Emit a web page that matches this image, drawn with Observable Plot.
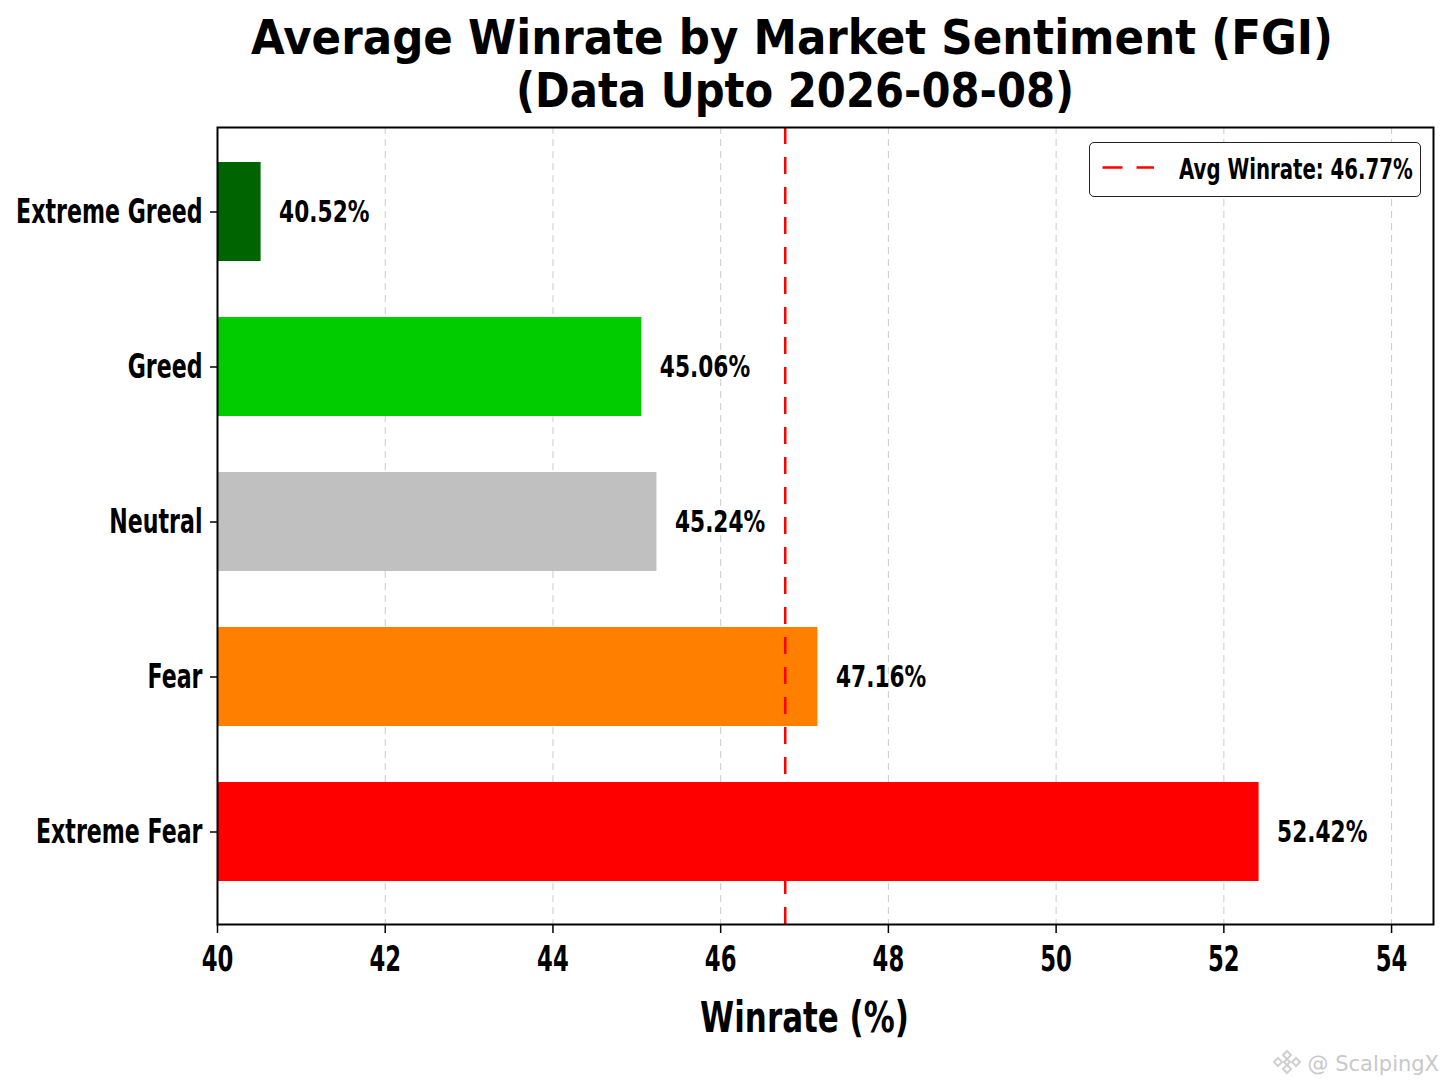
<!DOCTYPE html>
<html>
<head>
<meta charset="utf-8">
<script src="https://cdn.jsdelivr.net/npm/d3@7"></script>
<script src="https://cdn.jsdelivr.net/npm/@observablehq/plot@0.6"></script>
<style>
  html, body { margin: 0; padding: 0; background: #ffffff; }
  body { width: 1448px; height: 1086px; position: relative; overflow: hidden; font-family: "DejaVu Sans", sans-serif; }
  .tl { position: absolute; white-space: nowrap; font-weight: bold; font-size: 48px; line-height: 48px; color: #000; transform-origin: 0 0; }
  #chart { position: absolute; left: 0; top: 120px; }
  #legend { position: absolute; left: 1089px; top: 142px; width: 332px; height: 55px; box-sizing: border-box;
            border: 1.5px solid #222; border-radius: 5px; background: #fff; }
  #legend svg { position: absolute; left: 0; top: 0; }
  #legendText { position: absolute; left: 88.5px; top: 12.5px; white-space: nowrap; font-weight: bold; font-size: 28.4px;
                line-height: 28px; color: #000; transform-origin: 0 0; transform: scaleX(0.695); }
  #wm { position: absolute; right: 9px; top: 1054px; font-size: 21px; line-height: 21px; color: #c8c8c8; white-space: nowrap; }
  #wmLogo { position: absolute; left: 1272px; top: 1048px; }
</style>
</head>
<body>
<div class="tl" id="t1"></div>
<div class="tl" id="t2"></div>
<div id="chart"></div>
<div id="legend">
  <svg width="90" height="52"><line x1="12.5" x2="64" y1="24.5" y2="24.5" stroke="#ff0000" stroke-width="2.5" stroke-dasharray="20,14"></line></svg>
  <span id="legendText"></span>
</div>
<svg id="wmLogo" width="30" height="28" viewBox="0 0 30 28">
  <g fill="none" stroke="#d0d0d0" stroke-width="2">
    <path d="M15 3 L19 7 L15 11 L11 7 Z"></path>
    <path d="M15 17 L19 21 L15 25 L11 21 Z"></path>
    <path d="M6 10 L10 14 L6 18 L2 14 Z"></path>
    <path d="M24 10 L28 14 L24 18 L20 14 Z"></path>
    <path d="M15 11 L18 14 L15 17 L12 14 Z"></path>
  </g>
</svg>
<div id="wm">@ ScalpingX</div>
<script>
// ---- data ----
const titleLines = ["Average Winrate by Market Sentiment (FGI)", "(Data Upto 2026-08-08)"];
const sentiments = ["Extreme Greed", "Greed", "Neutral", "Fear", "Extreme Fear"];
const winrates = [40.52, 45.06, 45.24, 47.16, 52.42];
const avgWinrate = 46.77;
const xTicks = [40, 42, 44, 46, 48, 50, 52, 54];
const xDomain = [40, 54.5];
const xLabel = "Winrate (%)";
// ---- styling ----
const sentimentColors = ["#006400", "#00cc00", "#c0c0c0", "#ff8000", "#ff0000"];

const rows = sentiments.map((s, i) => ({sentiment: s, winrate: winrates[i], color: sentimentColors[i]}));

// title: two centred lines, condensed to the reference widths
const titleLayout = [{top: 12.7, center: 792, width: 1082}, {top: 66.1, center: 795, width: 558}];
titleLines.forEach((txt, i) => {
  const el = document.getElementById(i === 0 ? "t1" : "t2");
  el.textContent = txt;
  const {top, center, width} = titleLayout[i];
  el.style.top = top + "px";
  el.style.left = center + "px";
  const w = el.offsetWidth;
  const s = width / w;
  el.style.transform = `translateX(${-w * s / 2}px) scaleX(${s})`;
});

document.getElementById("legendText").textContent = `Avg Winrate: ${avgWinrate.toFixed(2)}%`;

const chart = Plot.plot({
  width: 1448,
  height: 966,
  marginTop: 7,
  marginBottom: 162,
  marginLeft: 217,
  marginRight: 15,
  style: {background: "#ffffff", fontFamily: "'DejaVu Sans', sans-serif", fontWeight: "bold", color: "#000", overflow: "visible"},
  x: {domain: xDomain},
  y: {domain: sentiments, paddingInner: 0.362, paddingOuter: 0.248, align: 0.447},
  color: {type: "identity"},
  marks: [
    Plot.gridX(xTicks, {stroke: "#a0a0a0", strokeOpacity: 0.55, strokeDasharray: "7,5", strokeWidth: 1}),
    Plot.barX(rows, {y: "sentiment", x1: xDomain[0], x2: "winrate", fill: "color"}),
    Plot.ruleX([avgWinrate], {stroke: "#ff0000", strokeWidth: 2.5, strokeDasharray: "17,13"}),
    Plot.text(rows, {x: "winrate", y: "sentiment", text: d => `${d.winrate.toFixed(2)}%`, textAnchor: "start", lineAnchor: "middle", dx: 18, fontSize: 31, fill: "#000"}),
    Plot.frame({stroke: "#000", strokeWidth: 2}),
    Plot.axisY({tickSize: 7, tickPadding: 8, fontSize: 33, label: null, strokeWidth: 1.5}),
    Plot.axisX(xTicks, {tickSize: 9, tickPadding: 13, fontSize: 35, label: null, strokeWidth: 1.5, tickFormat: d => String(d)}),
    Plot.text([xLabel], {frameAnchor: "bottom", dy: 93.5, dx: -21, fontSize: 43, lineAnchor: "middle", textAnchor: "middle", fill: "#000"})
  ]
});
document.getElementById("chart").appendChild(chart);

// horizontally condense the svg text to match the narrow lettering of the reference
const squeezeBySize = {31: 0.70, 33: 0.67, 35: 0.65, 43: 0.72};
chart.querySelectorAll("text").forEach(t => {
  const fs = Math.round(parseFloat(getComputedStyle(t).fontSize));
  const s = squeezeBySize[fs];
  if (!s) return;
  const tr = t.getAttribute("transform") || "";
  t.setAttribute("transform", `${tr} scale(${s},1)`.trim());
});
</script>
</body>
</html>
